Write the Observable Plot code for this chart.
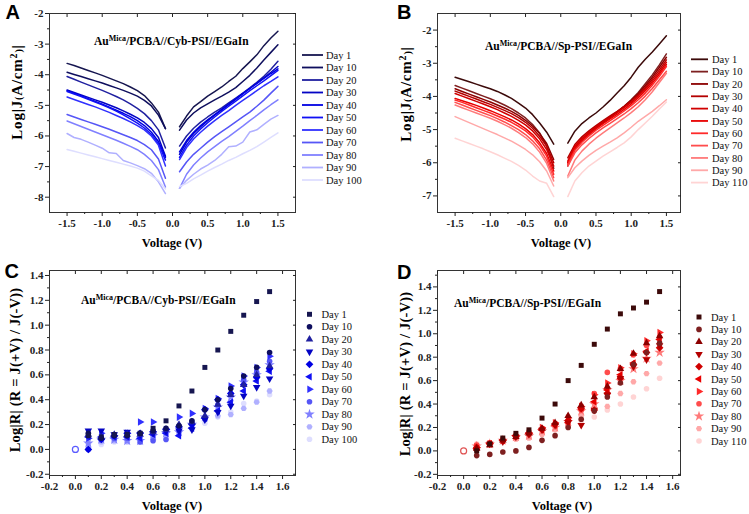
<!DOCTYPE html>
<html>
<head>
<meta charset="utf-8">
<script src="https://cdn.jsdelivr.net/npm/d3@7"></script>
<script src="https://cdn.jsdelivr.net/npm/@observablehq/plot@0.6"></script>
<style>
  body { margin: 0; background: #fff; }
  #root { position: relative; width: 749px; height: 514px; overflow: hidden; background: #fff; }
</style>
</head>
<body>
<div id="root"></div>
<script>
// ---------------- DATA ----------------
const daysA = ["Day 1","Day 10","Day 20","Day 30","Day 40","Day 50","Day 60","Day 70","Day 80","Day 90","Day 100"];
const daysB = ["Day 1","Day 10","Day 20","Day 30","Day 40","Day 50","Day 60","Day 70","Day 80","Day 90","Day 110"];
const vNeg = [-1.5,-1.4,-1.3,-1.2,-1.1,-1.0,-0.9,-0.8,-0.7,-0.6,-0.5,-0.4,-0.3,-0.2,-0.1];
const vPos = [0.1,0.2,0.3,0.4,0.5,0.6,0.7,0.8,0.9,1.0,1.1,1.2,1.3,1.4,1.5];
const blues = ["#161650","#0e0e5e","#2020a0","#0404c4","#0000e2","#1010f4","#3030ff","#5656f6","#8080ff","#b0b0ff","#dedeff"];
const reds  = ["#3c0a0a","#7e2020","#8c0000","#b40000","#d00000","#e80000","#ff2a2a","#ff4c4c","#ff7a7a","#ffa8a8","#ffd4d4"];

// Panel A: log|J| for negative and positive bias, one row per day
const jA_neg = [
  [-3.63,-3.70,-3.78,-3.86,-3.94,-4.02,-4.11,-4.20,-4.29,-4.40,-4.52,-4.68,-4.92,-5.22,-5.76],
  [-3.92,-3.99,-4.06,-4.13,-4.20,-4.27,-4.35,-4.43,-4.51,-4.60,-4.70,-4.84,-5.02,-5.32,-5.76],
  [-4.06,-4.15,-4.24,-4.33,-4.42,-4.51,-4.61,-4.71,-4.82,-4.95,-5.10,-5.27,-5.50,-5.80,-6.39],
  [-4.50,-4.58,-4.66,-4.74,-4.82,-4.90,-4.99,-5.08,-5.18,-5.29,-5.41,-5.56,-5.76,-6.05,-6.66],
  [-4.52,-4.60,-4.69,-4.78,-4.87,-4.96,-5.06,-5.16,-5.26,-5.37,-5.50,-5.66,-5.88,-6.18,-6.70],
  [-4.55,-4.63,-4.71,-4.80,-4.89,-4.98,-5.08,-5.19,-5.31,-5.44,-5.58,-5.74,-5.95,-6.25,-6.79],
  [-4.73,-4.81,-4.89,-4.97,-5.05,-5.14,-5.23,-5.33,-5.43,-5.54,-5.66,-5.80,-6.00,-6.30,-6.98],
  [-5.30,-5.38,-5.46,-5.54,-5.62,-5.70,-5.78,-5.87,-5.96,-6.05,-6.15,-6.28,-6.45,-6.75,-7.38],
  [-5.51,-5.60,-5.69,-5.78,-5.87,-5.96,-6.05,-6.14,-6.24,-6.34,-6.45,-6.60,-6.80,-7.10,-7.67],
  [-5.92,-6.05,-6.11,-6.20,-6.30,-6.40,-6.55,-6.57,-6.80,-6.88,-6.97,-7.07,-7.22,-7.50,-7.88],
  [-6.44,-6.50,-6.56,-6.62,-6.68,-6.74,-6.80,-6.86,-6.92,-6.98,-7.05,-7.15,-7.30,-7.45,-7.73]
];
const jA_pos = [
  [-5.70,-5.35,-5.05,-4.88,-4.70,-4.55,-4.40,-4.22,-4.05,-3.80,-3.58,-3.35,-3.05,-2.80,-2.58],
  [-5.81,-5.48,-5.25,-5.08,-4.95,-4.82,-4.70,-4.57,-4.42,-4.22,-4.02,-3.78,-3.52,-3.27,-3.02],
  [-6.33,-6.00,-5.75,-5.55,-5.38,-5.22,-5.08,-4.92,-4.76,-4.60,-4.43,-4.25,-4.05,-3.82,-3.56],
  [-6.60,-6.20,-5.92,-5.70,-5.50,-5.32,-5.15,-4.98,-4.80,-4.62,-4.45,-4.28,-4.10,-3.92,-3.73],
  [-6.52,-6.15,-5.88,-5.66,-5.47,-5.30,-5.13,-4.96,-4.79,-4.62,-4.45,-4.28,-4.12,-3.96,-3.81],
  [-6.70,-6.30,-6.00,-5.77,-5.57,-5.38,-5.20,-5.03,-4.86,-4.69,-4.52,-4.36,-4.20,-4.03,-3.86],
  [-6.77,-6.38,-6.10,-5.88,-5.68,-5.50,-5.33,-5.17,-5.00,-4.84,-4.68,-4.52,-4.36,-4.22,-4.07],
  [-7.17,-6.85,-6.60,-6.40,-6.20,-6.02,-5.86,-5.70,-5.54,-5.38,-5.22,-5.03,-4.83,-4.60,-4.38],
  [-7.71,-7.25,-6.95,-6.72,-6.52,-6.35,-6.18,-6.02,-5.85,-5.68,-5.50,-5.33,-5.15,-4.98,-4.82],
  [-7.71,-7.45,-7.25,-7.08,-6.95,-6.80,-6.60,-6.35,-6.33,-6.20,-5.87,-5.80,-5.62,-5.45,-5.33],
  [-7.65,-7.55,-7.40,-7.28,-7.15,-7.03,-6.92,-6.80,-6.70,-6.58,-6.47,-6.35,-6.20,-6.05,-5.90]
];
// Panel B
const jB_neg = [
  [-3.42,-3.49,-3.56,-3.63,-3.70,-3.77,-3.85,-3.95,-4.06,-4.20,-4.35,-4.55,-4.80,-5.08,-5.44],
  [-3.67,-3.75,-3.83,-3.91,-3.99,-4.07,-4.16,-4.26,-4.37,-4.50,-4.65,-4.85,-5.10,-5.50,-6.17],
  [-3.77,-3.85,-3.93,-4.01,-4.09,-4.17,-4.26,-4.35,-4.45,-4.57,-4.72,-4.90,-5.12,-5.42,-5.90],
  [-3.84,-3.92,-4.00,-4.08,-4.16,-4.24,-4.33,-4.42,-4.52,-4.64,-4.78,-4.96,-5.20,-5.50,-6.00],
  [-3.91,-3.99,-4.07,-4.15,-4.23,-4.31,-4.40,-4.50,-4.60,-4.72,-4.86,-5.04,-5.28,-5.60,-6.10],
  [-4.06,-4.13,-4.20,-4.27,-4.35,-4.43,-4.52,-4.61,-4.71,-4.83,-4.97,-5.15,-5.40,-5.72,-6.25],
  [-4.11,-4.18,-4.26,-4.34,-4.42,-4.50,-4.59,-4.68,-4.78,-4.90,-5.04,-5.22,-5.47,-5.80,-6.35],
  [-4.18,-4.26,-4.34,-4.42,-4.50,-4.58,-4.67,-4.77,-4.88,-5.00,-5.15,-5.34,-5.58,-5.92,-6.45],
  [-4.26,-4.34,-4.42,-4.50,-4.58,-4.66,-4.75,-4.85,-4.96,-5.09,-5.24,-5.43,-5.68,-6.02,-6.55],
  [-4.61,-4.70,-4.79,-4.88,-4.97,-5.06,-5.15,-5.25,-5.35,-5.47,-5.60,-5.76,-5.97,-6.25,-6.70],
  [-5.26,-5.34,-5.42,-5.50,-5.58,-5.67,-5.76,-5.86,-5.96,-6.08,-6.22,-6.40,-6.55,-6.62,-7.02]
];
const jB_pos = [
  [-5.41,-5.05,-4.82,-4.65,-4.50,-4.32,-4.12,-3.90,-3.68,-3.42,-3.12,-2.88,-2.66,-2.42,-2.17],
  [-6.10,-5.60,-5.35,-5.15,-4.97,-4.80,-4.64,-4.48,-4.30,-4.10,-3.88,-3.62,-3.35,-3.05,-2.72],
  [-6.00,-5.55,-5.30,-5.10,-4.93,-4.77,-4.62,-4.47,-4.30,-4.12,-3.92,-3.68,-3.42,-3.12,-2.82],
  [-5.85,-5.45,-5.22,-5.04,-4.88,-4.73,-4.59,-4.45,-4.30,-4.14,-3.95,-3.73,-3.48,-3.20,-2.90],
  [-5.95,-5.50,-5.27,-5.08,-4.92,-4.77,-4.63,-4.49,-4.34,-4.18,-3.99,-3.78,-3.54,-3.27,-2.97],
  [-6.00,-5.55,-5.32,-5.13,-4.97,-4.82,-4.68,-4.54,-4.39,-4.23,-4.04,-3.83,-3.60,-3.33,-3.04],
  [-6.05,-5.62,-5.38,-5.19,-5.02,-4.87,-4.73,-4.59,-4.44,-4.28,-4.10,-3.90,-3.66,-3.39,-3.10],
  [-6.10,-5.70,-5.46,-5.27,-5.10,-4.95,-4.81,-4.67,-4.53,-4.37,-4.19,-3.99,-3.76,-3.50,-3.24],
  [-6.40,-5.92,-5.65,-5.44,-5.26,-5.10,-4.95,-4.80,-4.65,-4.49,-4.31,-4.10,-3.86,-3.58,-3.30],
  [-6.45,-6.15,-5.95,-5.78,-5.63,-5.50,-5.38,-5.25,-5.10,-4.93,-4.75,-4.60,-4.45,-4.28,-4.10],
  [-7.02,-6.55,-6.30,-6.10,-5.95,-5.80,-5.67,-5.54,-5.40,-5.22,-5.00,-4.80,-4.60,-4.38,-4.17]
];
// Panels C and D: log|R| at V = 0.1 ... 1.5
const rC = [
  [0.11,0.10,0.12,0.12,0.13,0.17,0.23,0.35,0.47,0.66,0.80,0.95,1.08,1.19,1.27],
  [0.13,0.09,0.11,0.11,0.13,0.15,0.17,0.19,0.23,0.32,0.40,0.49,0.59,0.66,0.78],
  [0.12,0.10,0.12,0.12,0.12,0.14,0.16,0.20,0.22,0.27,0.36,0.44,0.52,0.60,0.67],
  [0.15,0.15,0.12,0.14,0.12,0.13,0.15,0.15,0.16,0.24,0.30,0.35,0.43,0.50,0.57],
  [0.00,0.08,0.11,0.13,0.13,0.14,0.16,0.18,0.20,0.32,0.40,0.45,0.52,0.58,0.65],
  [0.10,0.10,0.10,0.10,0.09,0.12,0.13,0.11,0.17,0.25,0.31,0.38,0.47,0.55,0.63],
  [0.09,0.13,0.11,0.13,0.22,0.22,0.16,0.26,0.29,0.33,0.41,0.51,0.59,0.66,0.75],
  [0.00,0.08,0.09,0.09,0.06,0.07,0.08,0.15,0.22,0.25,0.36,0.45,0.56,0.62,0.71],
  [0.05,0.08,0.08,0.07,0.07,0.11,0.13,0.14,0.20,0.26,0.34,0.42,0.54,0.60,0.68],
  [0.05,0.06,0.07,0.06,0.10,0.10,0.12,0.14,0.17,0.24,0.27,0.28,0.33,0.38,0.47],
  [0.04,0.04,0.06,0.07,0.08,0.10,0.10,0.12,0.16,0.21,0.26,0.30,0.37,0.39,0.44]
];
const rD = [
  [0.00,0.06,0.11,0.15,0.18,0.28,0.40,0.60,0.73,0.91,1.04,1.17,1.22,1.27,1.36],
  [-0.04,-0.03,-0.01,0.00,0.03,0.09,0.13,0.20,0.27,0.34,0.46,0.58,0.74,0.84,0.92],
  [0.02,0.05,0.09,0.12,0.15,0.19,0.24,0.30,0.39,0.46,0.55,0.70,0.83,0.92,0.98],
  [0.00,0.06,0.08,0.12,0.14,0.18,0.22,0.24,0.22,0.35,0.48,0.62,0.72,0.78,0.90],
  [0.03,0.06,0.09,0.13,0.15,0.19,0.23,0.26,0.36,0.35,0.49,0.62,0.74,0.84,0.88],
  [0.02,0.06,0.09,0.13,0.15,0.18,0.22,0.24,0.37,0.42,0.52,0.65,0.75,0.85,0.95],
  [0.03,0.06,0.09,0.12,0.15,0.20,0.24,0.28,0.38,0.48,0.58,0.71,0.83,0.94,1.01],
  [0.05,0.07,0.10,0.13,0.16,0.18,0.22,0.26,0.35,0.49,0.67,0.70,0.82,0.90,0.97],
  [0.04,0.06,0.09,0.12,0.13,0.17,0.20,0.25,0.34,0.40,0.52,0.60,0.70,0.79,0.84],
  [0.05,0.05,0.08,0.10,0.11,0.14,0.18,0.22,0.30,0.34,0.38,0.49,0.59,0.66,0.75],
  [0.06,0.07,0.09,0.10,0.12,0.15,0.19,0.21,0.25,0.29,0.35,0.40,0.46,0.53,0.62]
];
const originV = [0], originR = [0];

// Tick values
const xTicksJ = [-1.5,-1.0,-0.5,0.0,0.5,1.0,1.5];
const xMinorJ = [-1.25,-0.75,-0.25,0.25,0.75,1.25];
const yTicksA = [-8,-7,-6,-5,-4,-3,-2];
const yMinorA = [-7.5,-6.5,-5.5,-4.5,-3.5,-2.5];
const yTicksB = [-7,-6,-5,-4,-3,-2];
const yMinorB = [-6.5,-5.5,-4.5,-3.5,-2.5];
const xTicksR = [-0.2,0.0,0.2,0.4,0.6,0.8,1.0,1.2,1.4,1.6];
const xMinorR = [-0.1,0.1,0.3,0.5,0.7,0.9,1.1,1.3,1.5];
const yTicksR = [-0.2,0.0,0.2,0.4,0.6,0.8,1.0,1.2,1.4];
const yMinorR = [-0.1,0.1,0.3,0.5,0.7,0.9,1.1,1.3];
const yMinorD = [-0.1,0.1,0.3,0.5,0.7,0.9,1.1,1.3,1.5];

// ---------------- SYMBOLS ----------------
const sqrt3 = Math.sqrt(3);
function tri(rot) {
  return { draw(ctx, size) {
    const y = -Math.sqrt(size / (sqrt3 * 3));
    const pts = [[0, y * 2], [-sqrt3 * y, -y], [sqrt3 * y, -y]];
    const c = Math.cos(rot), s = Math.sin(rot);
    pts.forEach(([px, py], i) => { const X = px * c - py * s, Y = px * s + py * c; i ? ctx.lineTo(X, Y) : ctx.moveTo(X, Y); });
    ctx.closePath();
  }};
}
const symSquare = { draw(ctx, size) { const w = Math.sqrt(size), x = -w / 2; ctx.rect(x, x, w, w); } };
const symCircle = { draw(ctx, size) { const r = Math.sqrt(size / Math.PI); ctx.moveTo(r, 0); ctx.arc(0, 0, r, 0, 2 * Math.PI); } };
const symDiamond = { draw(ctx, size) { const a = Math.sqrt(size / 2) * 1.1; ctx.moveTo(0, -a); ctx.lineTo(a, 0); ctx.lineTo(0, a); ctx.lineTo(-a, 0); ctx.closePath(); } };
const symHex = { draw(ctx, size) { const r = Math.sqrt(size / (1.5 * sqrt3)); for (let i = 0; i < 6; i++) { const a = Math.PI / 3 * i; const X = r * Math.cos(a), Y = r * Math.sin(a); i ? ctx.lineTo(X, Y) : ctx.moveTo(X, Y); } ctx.closePath(); } };
const symStar = d3.symbolStar;
const symbols = [symSquare, symCircle, tri(0), tri(Math.PI), symDiamond, tri(-Math.PI / 2), tri(Math.PI / 2), symCircle, symStar, symHex, symCircle];

// ---------------- PLOTS ----------------
const root = document.getElementById("root");
const FONT = "'Liberation Serif','Times New Roman',serif";

function panel(o) {
  const svg = Plot.plot({
    width: o.w, height: o.h,
    marginLeft: o.ml, marginRight: o.mr, marginTop: o.mt, marginBottom: o.mb,
    x: {domain: o.xd}, y: {domain: o.yd},
    style: {fontFamily: FONT, fontSize: "11px", fontWeight: "bold", color: "#222", background: "transparent", overflow: "visible"},
    marks: [
      ...o.marks,
      Plot.frame({stroke: "#333", strokeWidth: 1}),
      Plot.axisX({ticks: o.xt, tickSize: 4, tickPadding: 3, tickFormat: o.xf, label: null}),
      Plot.axisX({ticks: o.xm, tickSize: 2, tickFormat: () => "", label: null}),
      Plot.axisX({anchor: "top", ticks: o.xt, tickSize: -3, tickFormat: () => "", label: null}),
      Plot.axisY({ticks: o.yt, tickSize: 4, tickPadding: 2, tickFormat: o.yf, label: null}),
      Plot.axisY({ticks: o.ym, tickSize: 2, tickFormat: () => "", label: null}),
      Plot.axisY({anchor: "right", ticks: o.yt, tickSize: -3, tickFormat: () => "", label: null})
    ]
  });
  svg.style.position = "absolute";
  svg.style.left = o.left + "px";
  svg.style.top = o.top + "px";
  root.appendChild(svg);
}

function lineMarks(neg, pos, colors) {
  const marks = [];
  neg.forEach((row, i) => {
    const dn = vNeg.map((v, k) => ({v, j: row[k]}));
    const dp = vPos.map((v, k) => ({v, j: pos[i][k]}));
    marks.push(Plot.line(dn, {x: "v", y: "j", stroke: colors[i], strokeWidth: 1.5}));
    marks.push(Plot.line(dp, {x: "v", y: "j", stroke: colors[i], strokeWidth: 1.5}));
  });
  return marks;
}
function dotMarks(R, colors, openColor) {
  const marks = [];
  const origin = originV.map((v, k) => ({v, r: originR[k]}));
  marks.push(Plot.dot(origin, {x: "v", y: "r", r: 3, stroke: openColor, strokeWidth: 1.2, fill: "none"}));
  for (let i = R.length - 1; i >= 0; i--) {
    const d = vPos.map((v, k) => ({v, r: R[i][k]}));
    marks.push(Plot.dot(d, {x: "v", y: "r", r: i === 8 ? 3.3 : 2.8, fill: colors[i], stroke: "none", symbol: symbols[i]}));
  }
  return marks;
}

const fmt0 = d => String(d);
const fmt1 = d => d.toFixed(1);

panel({left: 0, top: 0, w: 375, h: 257, ml: 49, mr: 80, mt: 13, mb: 45,
  xd: [-1.75, 1.75], yd: [-8.5, -2], xt: xTicksJ, xm: xMinorJ, yt: yTicksA, ym: yMinorA, xf: fmt1, yf: fmt0,
  marks: lineMarks(jA_neg, jA_pos, blues)});
panel({left: 375, top: 0, w: 374, h: 257, ml: 62, mr: 69, mt: 13, mb: 45,
  xd: [-1.75, 1.7], yd: [-7.5, -1.5], xt: xTicksJ, xm: xMinorJ, yt: yTicksB, ym: yMinorB, xf: fmt1, yf: fmt0,
  marks: lineMarks(jB_neg, jB_pos, reds)});
panel({left: 0, top: 257, w: 375, h: 257, ml: 49, mr: 80, mt: 13, mb: 39,
  xd: [-0.2, 1.7], yd: [-0.21, 1.44], xt: xTicksR, xm: xMinorR, yt: yTicksR, ym: yMinorR, xf: fmt1, yf: fmt1,
  marks: dotMarks(rC, blues, "#5a5aff")});
panel({left: 375, top: 257, w: 374, h: 257, ml: 62, mr: 69, mt: 13, mb: 39,
  xd: [-0.2, 1.66], yd: [-0.21, 1.54], xt: xTicksR, xm: xMinorR, yt: yTicksR, ym: yMinorD, xf: fmt1, yf: fmt1,
  marks: dotMarks(rD, reds, "#e05555")});

// ---------------- OVERLAY: labels, annotations, legends ----------------
const ov = d3.select(root).append("svg")
  .attr("width", 749).attr("height", 514)
  .style("position", "absolute").style("left", "0px").style("top", "0px")
  .style("font-family", FONT);

function letter(t, x, y) {
  ov.append("text").attr("x", x).attr("y", y).text(t)
    .style("font-family", "'Liberation Sans',Arial,sans-serif").style("font-weight", "bold").style("font-size", "20px").attr("fill", "#000");
}
letter("A", 5.5, 19); letter("B", 397, 19); letter("C", 4.5, 277.5); letter("D", 397, 279);

function anno(x, y, rest) {
  const t = ov.append("text").attr("x", x).attr("y", y).attr("fill", "#000")
    .style("font-weight", "bold").style("font-size", "11.5px");
  t.append("tspan").text("Au");
  t.append("tspan").attr("dy", -4.5).style("font-size", "8px").text("Mica");
  t.append("tspan").attr("dy", 4.5).text(rest);
}
anno(94, 45, "/PCBA//Cyb-PSI//EGaIn");
anno(485, 50, "/PCBA//Sp-PSI//EGaIn");
anno(81, 304, "/PCBA//Cyb-PSI//EGaIn");
anno(454, 307, "/PCBA//Sp-PSI//EGaIn");

function xlab(cx, y) {
  ov.append("text").attr("x", cx).attr("y", y).attr("text-anchor", "middle").attr("fill", "#000")
    .style("font-weight", "bold").style("font-size", "12.5px").text("Voltage (V)");
}
xlab(172, 246.5); xlab(561, 246.5); xlab(172, 509.5); xlab(562, 509.5);

function ylabJ(x, cy) {
  const t = ov.append("text").attr("transform", `translate(${x},${cy}) rotate(-90)`).attr("text-anchor", "middle").attr("fill", "#000")
    .style("font-weight", "bold").style("font-size", "15px").style("letter-spacing", "0.8px");
  t.append("tspan").text("Log|J");
  t.append("tspan").style("font-size", "10px").text("(");
  t.append("tspan").text("A/cm");
  t.append("tspan").attr("dy", -5).style("font-size", "10px").text("2");
  t.append("tspan").attr("dy", 5).style("font-size", "10px").text(")");
  t.append("tspan").text("|");
}
ylabJ(22, 92); ylabJ(411, 94);
function ylabR(x, cy) {
  ov.append("text").attr("transform", `translate(${x},${cy}) rotate(-90)`).attr("text-anchor", "middle").attr("fill", "#000")
    .style("font-weight", "bold").style("font-size", "14.5px").style("letter-spacing", "0.2px").text("Log|R| (R = J(+V) / J(-V))");
}
ylabR(20, 370); ylabR(410, 374);

function legendLines(labels, colors, x1, x2, tx, y0, dy) {
  labels.forEach((lab, i) => {
    const y = y0 + dy * i;
    ov.append("line").attr("x1", x1).attr("x2", x2).attr("y1", y).attr("y2", y).attr("stroke", colors[i]).attr("stroke-width", 1.8);
    ov.append("text").attr("x", tx).attr("y", y).attr("dy", "0.35em").attr("fill", "#111").style("font-size", "10.5px").text(lab);
  });
}
legendLines(daysA, blues, 302, 323, 326, 55, 12.5);
legendLines(daysB, reds, 691, 708, 712, 59.3, 12.33);

function legendDots(labels, colors, cx, tx, y0, dy) {
  labels.forEach((lab, i) => {
    const y = y0 + dy * i;
    const r = i === 8 ? 3.3 : 2.8;
    ov.append("path").attr("transform", `translate(${cx},${y})`)
      .attr("d", d3.symbol().type(symbols[i]).size(Math.PI * r * r)()).attr("fill", colors[i]);
    ov.append("text").attr("x", tx).attr("y", y).attr("dy", "0.35em").attr("fill", "#111").style("font-size", "10.5px").text(lab);
  });
}
legendDots(daysA, blues, 309.5, 321.5, 314.3, 12.5);
legendDots(daysB, reds, 699, 711, 317, 12.4);
</script>
</body>
</html>
